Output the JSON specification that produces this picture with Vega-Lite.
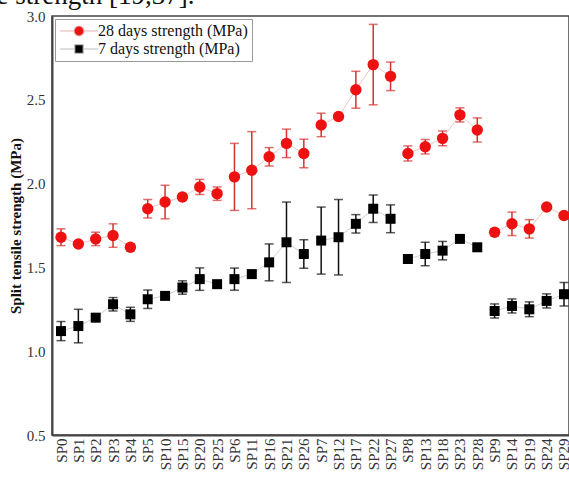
{
  "$schema": "https://vega.github.io/schema/vega-lite/v6.json",
  "width": 517,
  "height": 419,
  "autosize": {"type": "none"},
  "padding": {"left": 52, "top": 16, "right": 0, "bottom": 43},
  "background": "white",
  "title": {
    "text": "le strength [19,37].",
    "anchor": "start",
    "frame": "group",
    "font": "Liberation Serif",
    "fontSize": 27,
    "fontWeight": "normal",
    "color": "#111",
    "baseline": "alphabetic",
    "offset": 0,
    "dx": -63,
    "dy": 22
  },
  "config": {
    "view": {"stroke": "#444", "strokeWidth": 1.5},
    "font": "Liberation Serif"
  },
  "data": {
    "values": [
      {"i": 0, "sample": "SP0", "group": "G0", "series": "28 days strength (MPa)", "value": 1.68, "lo": 1.63, "hi": 1.73},
      {"i": 1, "sample": "SP1", "group": "G0", "series": "28 days strength (MPa)", "value": 1.64, "lo": 1.625, "hi": 1.655},
      {"i": 2, "sample": "SP2", "group": "G0", "series": "28 days strength (MPa)", "value": 1.67, "lo": 1.63, "hi": 1.71},
      {"i": 3, "sample": "SP3", "group": "G0", "series": "28 days strength (MPa)", "value": 1.69, "lo": 1.62, "hi": 1.76},
      {"i": 4, "sample": "SP4", "group": "G0", "series": "28 days strength (MPa)", "value": 1.62, "lo": 1.60, "hi": 1.64},
      {"i": 5, "sample": "SP5", "group": "G1", "series": "28 days strength (MPa)", "value": 1.85, "lo": 1.795, "hi": 1.905},
      {"i": 6, "sample": "SP10", "group": "G1", "series": "28 days strength (MPa)", "value": 1.89, "lo": 1.79, "hi": 1.99},
      {"i": 7, "sample": "SP15", "group": "G1", "series": "28 days strength (MPa)", "value": 1.92, "lo": 1.90, "hi": 1.94},
      {"i": 8, "sample": "SP20", "group": "G1", "series": "28 days strength (MPa)", "value": 1.98, "lo": 1.935, "hi": 2.025},
      {"i": 9, "sample": "SP25", "group": "G1", "series": "28 days strength (MPa)", "value": 1.94, "lo": 1.90, "hi": 1.98},
      {"i": 10, "sample": "SP6", "group": "G2", "series": "28 days strength (MPa)", "value": 2.04, "lo": 1.84, "hi": 2.24},
      {"i": 11, "sample": "SP11", "group": "G2", "series": "28 days strength (MPa)", "value": 2.08, "lo": 1.85, "hi": 2.31},
      {"i": 12, "sample": "SP16", "group": "G2", "series": "28 days strength (MPa)", "value": 2.16, "lo": 2.105, "hi": 2.215},
      {"i": 13, "sample": "SP21", "group": "G2", "series": "28 days strength (MPa)", "value": 2.24, "lo": 2.155, "hi": 2.325},
      {"i": 14, "sample": "SP26", "group": "G2", "series": "28 days strength (MPa)", "value": 2.18, "lo": 2.095, "hi": 2.265},
      {"i": 15, "sample": "SP7", "group": "G3", "series": "28 days strength (MPa)", "value": 2.35, "lo": 2.28, "hi": 2.42},
      {"i": 16, "sample": "SP12", "group": "G3", "series": "28 days strength (MPa)", "value": 2.40, "lo": 2.39, "hi": 2.41},
      {"i": 17, "sample": "SP17", "group": "G3", "series": "28 days strength (MPa)", "value": 2.56, "lo": 2.45, "hi": 2.67},
      {"i": 18, "sample": "SP22", "group": "G3", "series": "28 days strength (MPa)", "value": 2.71, "lo": 2.47, "hi": 2.95},
      {"i": 19, "sample": "SP27", "group": "G3", "series": "28 days strength (MPa)", "value": 2.64, "lo": 2.555, "hi": 2.725},
      {"i": 20, "sample": "SP8", "group": "G4", "series": "28 days strength (MPa)", "value": 2.18, "lo": 2.135, "hi": 2.225},
      {"i": 21, "sample": "SP13", "group": "G4", "series": "28 days strength (MPa)", "value": 2.22, "lo": 2.177, "hi": 2.263},
      {"i": 22, "sample": "SP18", "group": "G4", "series": "28 days strength (MPa)", "value": 2.27, "lo": 2.226, "hi": 2.314},
      {"i": 23, "sample": "SP23", "group": "G4", "series": "28 days strength (MPa)", "value": 2.41, "lo": 2.368, "hi": 2.452},
      {"i": 24, "sample": "SP28", "group": "G4", "series": "28 days strength (MPa)", "value": 2.32, "lo": 2.248, "hi": 2.392},
      {"i": 25, "sample": "SP9", "group": "G5", "series": "28 days strength (MPa)", "value": 1.71, "lo": 1.69, "hi": 1.73},
      {"i": 26, "sample": "SP14", "group": "G5", "series": "28 days strength (MPa)", "value": 1.76, "lo": 1.69, "hi": 1.83},
      {"i": 27, "sample": "SP19", "group": "G5", "series": "28 days strength (MPa)", "value": 1.73, "lo": 1.675, "hi": 1.785},
      {"i": 28, "sample": "SP24", "group": "G5", "series": "28 days strength (MPa)", "value": 1.86, "lo": 1.85, "hi": 1.87},
      {"i": 29, "sample": "SP29", "group": "G5", "series": "28 days strength (MPa)", "value": 1.81, "lo": 1.80, "hi": 1.82},
      {"i": 0, "sample": "SP0", "group": "G0", "series": "7 days strength (MPa)", "value": 1.12, "lo": 1.063, "hi": 1.177},
      {"i": 1, "sample": "SP1", "group": "G0", "series": "7 days strength (MPa)", "value": 1.15, "lo": 1.05, "hi": 1.25},
      {"i": 2, "sample": "SP2", "group": "G0", "series": "7 days strength (MPa)", "value": 1.20, "lo": 1.185, "hi": 1.215},
      {"i": 3, "sample": "SP3", "group": "G0", "series": "7 days strength (MPa)", "value": 1.28, "lo": 1.24, "hi": 1.32},
      {"i": 4, "sample": "SP4", "group": "G0", "series": "7 days strength (MPa)", "value": 1.22, "lo": 1.178, "hi": 1.262},
      {"i": 5, "sample": "SP5", "group": "G1", "series": "7 days strength (MPa)", "value": 1.31, "lo": 1.255, "hi": 1.365},
      {"i": 6, "sample": "SP10", "group": "G1", "series": "7 days strength (MPa)", "value": 1.33, "lo": 1.32, "hi": 1.34},
      {"i": 7, "sample": "SP15", "group": "G1", "series": "7 days strength (MPa)", "value": 1.38, "lo": 1.34, "hi": 1.42},
      {"i": 8, "sample": "SP20", "group": "G1", "series": "7 days strength (MPa)", "value": 1.43, "lo": 1.363, "hi": 1.497},
      {"i": 9, "sample": "SP25", "group": "G1", "series": "7 days strength (MPa)", "value": 1.40, "lo": 1.385, "hi": 1.415},
      {"i": 10, "sample": "SP6", "group": "G2", "series": "7 days strength (MPa)", "value": 1.43, "lo": 1.364, "hi": 1.496},
      {"i": 11, "sample": "SP11", "group": "G2", "series": "7 days strength (MPa)", "value": 1.46, "lo": 1.45, "hi": 1.47},
      {"i": 12, "sample": "SP16", "group": "G2", "series": "7 days strength (MPa)", "value": 1.53, "lo": 1.42, "hi": 1.64},
      {"i": 13, "sample": "SP21", "group": "G2", "series": "7 days strength (MPa)", "value": 1.65, "lo": 1.41, "hi": 1.89},
      {"i": 14, "sample": "SP26", "group": "G2", "series": "7 days strength (MPa)", "value": 1.58, "lo": 1.495, "hi": 1.665},
      {"i": 15, "sample": "SP7", "group": "G3", "series": "7 days strength (MPa)", "value": 1.66, "lo": 1.46, "hi": 1.86},
      {"i": 16, "sample": "SP12", "group": "G3", "series": "7 days strength (MPa)", "value": 1.68, "lo": 1.455, "hi": 1.905},
      {"i": 17, "sample": "SP17", "group": "G3", "series": "7 days strength (MPa)", "value": 1.76, "lo": 1.705, "hi": 1.815},
      {"i": 18, "sample": "SP22", "group": "G3", "series": "7 days strength (MPa)", "value": 1.85, "lo": 1.768, "hi": 1.932},
      {"i": 19, "sample": "SP27", "group": "G3", "series": "7 days strength (MPa)", "value": 1.79, "lo": 1.707, "hi": 1.873},
      {"i": 20, "sample": "SP8", "group": "G4", "series": "7 days strength (MPa)", "value": 1.55, "lo": 1.54, "hi": 1.56},
      {"i": 21, "sample": "SP13", "group": "G4", "series": "7 days strength (MPa)", "value": 1.58, "lo": 1.51, "hi": 1.65},
      {"i": 22, "sample": "SP18", "group": "G4", "series": "7 days strength (MPa)", "value": 1.60, "lo": 1.545, "hi": 1.655},
      {"i": 23, "sample": "SP23", "group": "G4", "series": "7 days strength (MPa)", "value": 1.67, "lo": 1.66, "hi": 1.68},
      {"i": 24, "sample": "SP28", "group": "G4", "series": "7 days strength (MPa)", "value": 1.62, "lo": 1.61, "hi": 1.63},
      {"i": 25, "sample": "SP9", "group": "G5", "series": "7 days strength (MPa)", "value": 1.24, "lo": 1.198, "hi": 1.282},
      {"i": 26, "sample": "SP14", "group": "G5", "series": "7 days strength (MPa)", "value": 1.27, "lo": 1.228, "hi": 1.312},
      {"i": 27, "sample": "SP19", "group": "G5", "series": "7 days strength (MPa)", "value": 1.25, "lo": 1.206, "hi": 1.294},
      {"i": 28, "sample": "SP24", "group": "G5", "series": "7 days strength (MPa)", "value": 1.30, "lo": 1.258, "hi": 1.342},
      {"i": 29, "sample": "SP29", "group": "G5", "series": "7 days strength (MPa)", "value": 1.34, "lo": 1.27, "hi": 1.41}
    ]
  },
  "encoding": {
    "x": {
      "field": "sample",
      "type": "nominal",
      "sort": ["SP0","SP1","SP2","SP3","SP4","SP5","SP10","SP15","SP20","SP25","SP6","SP11","SP16","SP21","SP26","SP7","SP12","SP17","SP22","SP27","SP8","SP13","SP18","SP23","SP28","SP9","SP14","SP19","SP24","SP29"],
      "scale": {"type": "point", "padding": 0.404, "align": 0.643},
      "axis": {
        "title": null,
        "labelAngle": -90,
        "labelAlign": "right",
        "labelBaseline": "middle",
        "labelFont": "Liberation Serif",
        "labelFontSize": 15,
        "labelColor": "#333",
        "labelPadding": 3,
        "ticks": false,
        "domainColor": "#444",
        "domainWidth": 2,
        "grid": false
      }
    }
  },
  "layer": [
    {
      "mark": {"type": "line", "strokeWidth": 1},
      "encoding": {
        "y": {"field": "value", "type": "quantitative"},
        "detail": {"field": "group"},
        "order": {"field": "i", "type": "quantitative"},
        "color": {
          "field": "series",
          "type": "nominal",
          "scale": {"domain": ["28 days strength (MPa)", "7 days strength (MPa)"], "range": ["#f0c4c4", "#d0d0d0"]},
          "legend": null
        }
      }
    },
    {
      "mark": {"type": "errorbar", "thickness": 1.5, "ticks": {"size": 9}},
      "encoding": {
        "y": {
          "field": "lo",
          "type": "quantitative",
          "scale": {"domain": [0.5, 3.0], "nice": false, "zero": false},
          "axis": {
            "title": "Split tensile strength (MPa)",
            "titleFont": "Liberation Serif",
            "titleFontSize": 15,
            "titleFontWeight": "bold",
            "titleColor": "#111",
            "titlePadding": 3,
            "values": [0.5, 1.0, 1.5, 2.0, 2.5, 3.0],
            "format": ".1f",
            "labelFont": "Liberation Serif",
            "labelFontSize": 15,
            "labelColor": "#333",
            "labelPadding": 7,
            "ticks": false,
            "domainColor": "#444",
            "domainWidth": 2,
            "grid": false
          }
        },
        "y2": {"field": "hi"},
        "color": {
          "field": "series",
          "type": "nominal",
          "scale": {"domain": ["28 days strength (MPa)", "7 days strength (MPa)"], "range": ["#d63030", "#111111"]},
          "legend": null
        }
      }
    },
    {
      "mark": {"type": "point", "filled": true, "opacity": 1},
      "encoding": {
        "y": {"field": "value", "type": "quantitative"},
        "shape": {
          "field": "series",
          "type": "nominal",
          "scale": {"domain": ["28 days strength (MPa)", "7 days strength (MPa)"], "range": ["circle", "square"]},
          "legend": null
        },
        "size": {
          "field": "series",
          "type": "nominal",
          "scale": {"domain": ["28 days strength (MPa)", "7 days strength (MPa)"], "range": [130, 100]},
          "legend": null
        },
        "color": {
          "field": "series",
          "type": "nominal",
          "scale": {"domain": ["28 days strength (MPa)", "7 days strength (MPa)"], "range": ["#ee1111", "#000000"]},
          "legend": null
        }
      }
    },
    {
      "mark": {"type": "point", "filled": true, "opacity": 0, "size": 100, "strokeWidth": 1.2},
      "encoding": {
        "y": {"field": "value", "type": "quantitative"},
        "shape": {
          "field": "series",
          "type": "nominal",
          "scale": {
            "domain": ["28 days strength (MPa)", "7 days strength (MPa)"],
            "range": [
              "M-3.8,0L-1,0A1,1 0 1,1 1,0A1,1 0 1,1 -1,0M1,0L3.8,0",
              "M-3.8,0L-0.85,0M-0.85,-0.85L0.85,-0.85L0.85,0.85L-0.85,0.85ZM0.85,0L3.8,0"
            ]
          },
          "legend": {
            "title": null,
            "orient": "top-left",
            "offset": 3,
            "padding": 4,
            "strokeColor": "#999",
            "fillColor": "white",
            "labelFont": "Liberation Serif",
            "labelFontSize": 16,
            "labelColor": "#111",
            "labelLimit": 300,
            "symbolOffset": 12,
            "labelOffset": 11,
            "rowPadding": 2,
            "symbolSize": 100,
            "symbolOpacity": 1,
            "encode": {
              "symbols": {
                "update": {
                  "stroke": {"signal": "datum.value === '28 days strength (MPa)' ? '#e6b4b4' : '#bdbdbd'"},
                  "strokeWidth": {"value": 1.2},
                  "strokeOpacity": {"value": 1},
                  "opacity": {"value": 1}
                }
              }
            }
          }
        },
        "color": {
          "field": "series",
          "type": "nominal",
          "scale": {"domain": ["28 days strength (MPa)", "7 days strength (MPa)"], "range": ["#ee1111", "#000000"]},
          "legend": {
            "title": null,
            "orient": "top-left",
            "offset": 3,
            "padding": 4,
            "strokeColor": "#999",
            "fillColor": "white",
            "labelFont": "Liberation Serif",
            "labelFontSize": 16,
            "labelColor": "#111",
            "labelLimit": 300,
            "symbolOffset": 12,
            "labelOffset": 11,
            "rowPadding": 2,
            "symbolSize": 100,
            "symbolOpacity": 1,
            "encode": {
              "symbols": {
                "update": {
                  "stroke": {"signal": "datum.value === '28 days strength (MPa)' ? '#e6b4b4' : '#bdbdbd'"},
                  "strokeWidth": {"value": 1.2},
                  "strokeOpacity": {"value": 1},
                  "opacity": {"value": 1}
                }
              }
            }
          }
        }
      }
    }
  ],
  "resolve": {"scale": {"color": "independent", "shape": "independent", "size": "independent", "y": "shared"}}
}
